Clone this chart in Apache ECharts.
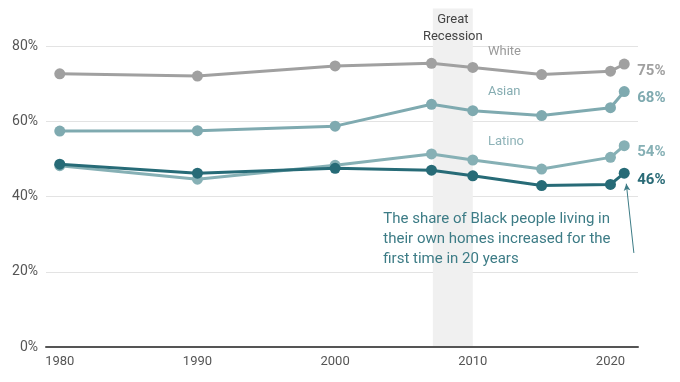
<!DOCTYPE html>
<html><head><meta charset="utf-8">
<script src="https://cdn.jsdelivr.net/npm/echarts@6/dist/echarts.min.js"></script>
<style>html,body{margin:0;padding:0;background:#fff}#c{width:680px;height:382px}</style>
</head><body><div id="c"></div>
<script>
const years = [1980, 1990, 2000, 2007, 2010, 2015, 2020, 2021];
const white = [72.6, 72.0, 74.7, 75.4, 74.3, 72.4, 73.3, 75.2];
const asian = [57.4, 57.5, 58.7, 64.5, 62.8, 61.5, 63.6, 67.9];
const latino = [48.2, 44.6, 48.3, 51.3, 49.7, 47.3, 50.4, 53.5];
const black = [48.6, 46.2, 47.5, 47.0, 45.5, 42.9, 43.2, 46.2];
const xTicks = [1980, 1990, 2000, 2010, 2020];
const recession = [2007.1, 2010];

const FONT = 'Roboto';
const pairs = arr => years.map((y, i) => [y, arr[i]]);

function mkSeries(name, arr, color, labelColor, nameLabel) {
  const s = {
    type: 'line', name: name, data: pairs(arr),
    symbol: 'circle', symbolSize: 11, z: 3,
    lineStyle: { color: color, width: 3 },
    itemStyle: { color: color },
    emphasis: { disabled: true },
    endLabel: {
      show: true, distance: 13, offset: [0, 7],
      color: labelColor, fontFamily: FONT, fontWeight: 'bold', fontSize: 15,
      formatter: p => Math.round(p.value[1]) + '%'
    }
  };
  if (nameLabel) {
    s.markPoint = {
      symbol: 'circle', symbolSize: 0, silent: true, animation: false,
      data: [{ coord: nameLabel.coord, value: name,
        label: { show: true, position: 'inside', align: 'left', verticalAlign: 'middle',
          color: nameLabel.color, fontFamily: FONT, fontSize: 13, formatter: name } }]
    };
  }
  return s;
}

const sWhite = mkSeries('White', white, '#a0a0a0', '#a0a0a0', { coord: [2011.1, 78.4], color: '#9a9a9a' });
const sAsian = mkSeries('Asian', asian, '#7faab0', '#7faab0', { coord: [2011.1, 67.8], color: '#86adb2' });
const sLatino = mkSeries('Latino', latino, '#86b0b5', '#86b0b5', { coord: [2011.1, 54.5], color: '#8fb3b8' });
const sBlack = mkSeries('Black', black, '#276b77', '#2a6b77', null);
sBlack.z = 4;
sBlack.markPoint = {
  symbol: 'circle', symbolSize: 0, silent: true,
  data: [{ coord: [2003.5, 28.6], value: 0,
    label: { show: true, position: 'inside', align: 'left', verticalAlign: 'middle',
      color: '#3d7c86', fontFamily: FONT, fontSize: 15, lineHeight: 20,
      formatter: 'The share of Black people living in\ntheir own homes increased for the\nfirst time in 20 years' } }]
};
sBlack.markLine = {
  silent: true, symbol: ['none', 'arrow'], symbolSize: [5, 7],
  label: { show: false },
  lineStyle: { color: '#3d7c86', width: 1, type: 'solid', curveness: 0.12 },
  data: [[{ coord: [2021.7, 25.0] }, { coord: [2021.15, 43.4] }]]
};

const option = {
  animation: false,
  backgroundColor: '#fff',
  grid: { left: 46, right: 42, top: 46, bottom: 35 },
  xAxis: {
    type: 'value', min: 1979, max: 2022,
    axisLine: { show: true, onZero: false, lineStyle: { color: '#555', width: 2 } },
    axisTick: { show: false },
    splitLine: { show: false },
    axisLabel: { customValues: xTicks, formatter: v => String(v), color: '#555', fontFamily: FONT, fontSize: 13, margin: 8 }
  },
  yAxis: {
    type: 'value', min: 0, max: 80, interval: 20,
    axisLine: { show: false }, axisTick: { show: false },
    splitLine: { lineStyle: { color: '#e3e3e3', width: 1 } },
    axisLabel: { formatter: '{value}%', color: '#555', fontFamily: FONT, fontSize: 14, margin: 8 }
  },
  series: [
    {
      type: 'custom', z: 0, silent: true, clip: false,
      data: [recession],
      encode: { x: [0, 1] },
      renderItem: (params, api) => {
        const x0 = api.value(0), x1 = api.value(1);
        const pTop = api.coord([x0, 90]);
        const pBot = api.coord([x1, 0]);
        const pText = api.coord([(x0 + x1) / 2, 84.6]);
        return {
          type: 'group',
          children: [
            { type: 'rect', shape: { x: pTop[0], y: pTop[1], width: pBot[0] - pTop[0], height: pBot[1] - pTop[1] },
              style: { fill: '#f0f0f0' } },
            { type: 'text', x: pText[0], y: pText[1],
              style: { text: 'Great\nRecession', align: 'center', verticalAlign: 'middle',
                fill: '#444', font: '13px ' + FONT, lineHeight: 17 } }
          ]
        };
      }
    },
    sWhite, sAsian, sLatino, sBlack
  ]
};
const chart = echarts.init(document.getElementById('c'), null, { renderer: 'canvas' });
chart.setOption(option);
</script></body></html>
